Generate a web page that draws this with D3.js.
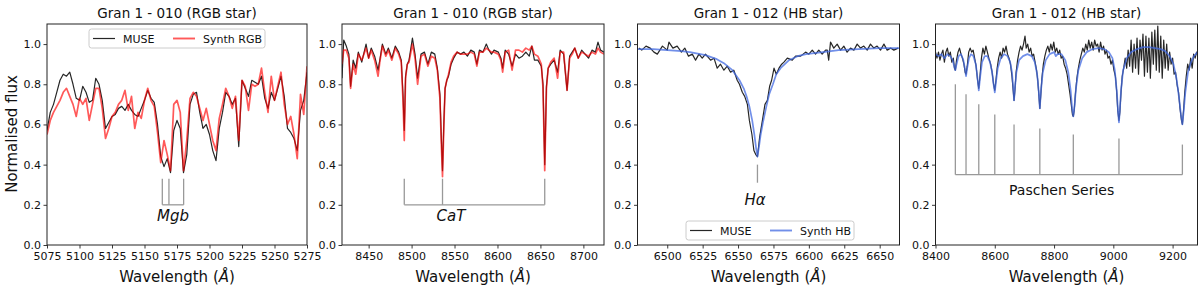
<!DOCTYPE html>
<html><head><meta charset="utf-8">
<script src="https://cdn.jsdelivr.net/npm/d3@7"></script>
<style>
body{margin:0;background:#fff}
svg{display:block}
text{font-family:"DejaVu Sans",sans-serif;fill:#111}
</style>
</head><body>
<svg id="c" width="1200" height="289"></svg>
<script>
// ---------------- DATA ----------------
const titles = ["Gran 1 - 010 (RGB star)","Gran 1 - 010 (RGB star)","Gran 1 - 012 (HB star)","Gran 1 - 012 (HB star)"];
const yTickValues = [0.0,0.2,0.4,0.6,0.8,1.0];
const p1Ticks = [5075,5100,5125,5150,5175,5200,5225,5250,5275];
const p2Ticks = [8450,8500,8550,8600,8650,8700];
const p3Ticks = [6500,6525,6550,6575,6600,6625,6650];
const p4Ticks = [8400,8600,8800,9000,9200];

// Panel 1: Mgb region
const p1Wave = [5075,5077.5,5080,5082.5,5085,5087.5,5090,5092.5,5095,5097.5,
 5100,5102.5,5105,5107.5,5110,5112.5,5115,5117.5,5120,5122.5,
 5125,5127.5,5130,5132.5,5135,5137.5,5140,5142.5,5145,5147.5,
 5150,5152.5,5155,5157.5,5160,5162.5,5165,5167.5,5170,5172.5,
 5175,5177.5,5180,5182.5,5185,5187.5,5190,5192.5,5195,5197.5,
 5200,5202.5,5205,5207.5,5210,5212.5,5215,5217.5,5220,5222.5,
 5225,5227.5,5230,5232.5,5235,5237.5,5240,5242.5,5245,5247.5,
 5250,5252.5,5255,5257.5,5260,5262.5,5265,5267.5,5270,5272.5,
 5275];
const p1Muse = [0.57,0.66,0.70,0.76,0.82,0.85,0.84,0.86,0.80,0.73,
 0.72,0.79,0.76,0.71,0.72,0.83,0.80,0.72,0.58,0.61,
 0.64,0.65,0.68,0.69,0.67,0.70,0.67,0.65,0.64,0.68,
 0.72,0.77,0.73,0.71,0.60,0.44,0.39,0.43,0.36,0.57,
 0.62,0.58,0.36,0.45,0.70,0.75,0.76,0.66,0.58,0.60,
 0.55,0.47,0.42,0.58,0.66,0.76,0.74,0.70,0.73,0.49,
 0.82,0.78,0.74,0.82,0.81,0.80,0.84,0.73,0.68,0.76,
 0.72,0.78,0.84,0.74,0.58,0.56,0.53,0.47,0.67,0.72,
 0.86];
const p1Synth = [0.55,0.62,0.66,0.69,0.72,0.76,0.78,0.74,0.70,0.64,
 0.73,0.70,0.73,0.62,0.70,0.78,0.78,0.68,0.53,0.58,
 0.64,0.66,0.70,0.72,0.77,0.67,0.74,0.58,0.66,0.63,
 0.72,0.78,0.72,0.69,0.56,0.41,0.52,0.45,0.37,0.70,
 0.72,0.66,0.37,0.52,0.73,0.76,0.74,0.68,0.62,0.68,
 0.60,0.52,0.47,0.63,0.70,0.78,0.74,0.68,0.74,0.52,
 0.82,0.79,0.67,0.80,0.79,0.80,0.88,0.76,0.66,0.84,
 0.72,0.79,0.86,0.70,0.60,0.64,0.55,0.43,0.75,0.65,
 0.89];

// Panel 2: CaT region
const p2Wave = [8419,8421,8424,8427,8429,8432,8435,8438,8442,8447,
 8450,8453,8457,8461,8463,8466,8470,8473,8477,8481,
 8485,8488,8490,8491.5,8493,8495,8497,8501,8504,8507,
 8511,8515,8519,8523,8527,8530,8533,8534.5,8536,8537.5,
 8539,8541,8543,8546,8549,8553,8557,8561,8565,8569,
 8573,8576,8579,8583,8587,8590,8593,8596,8601,8604,
 8606,8609,8613,8617,8621,8625,8629,8633,8637,8640,
 8643,8647,8651,8653,8655,8657,8659,8662,8666,8670,
 8673,8677,8681,8684,8687,8690,8694,8698,8702,8706,
 8710,8714,8717,8720,8724];
const p2Muse = [0.83,1.02,0.99,0.95,0.79,0.92,0.88,0.96,0.91,1.00,
 0.93,0.98,0.94,0.87,0.92,1.00,0.95,0.98,0.93,0.99,
 0.96,0.92,0.75,0.57,0.84,0.90,0.92,1.03,0.95,0.83,
 0.95,0.96,0.90,0.96,0.95,0.88,0.75,0.55,0.37,0.60,
 0.78,0.82,0.84,0.90,0.93,0.96,0.95,0.96,0.94,0.97,
 0.96,0.90,0.97,0.96,1.00,0.97,0.95,0.97,0.96,0.93,
 0.88,0.97,0.95,0.89,0.95,0.93,0.94,0.96,0.94,0.99,
 0.92,0.92,0.89,0.80,0.40,0.79,0.88,0.90,0.92,0.86,
 0.97,0.95,0.77,0.94,0.96,0.98,0.93,0.97,0.95,0.93,
 0.97,0.96,1.01,0.97,0.96];
const p2Synth = [0.90,0.97,0.97,0.93,0.78,0.90,0.85,0.95,0.92,0.98,
 0.93,0.97,0.92,0.84,0.91,0.99,0.94,0.97,0.92,0.98,
 0.95,0.91,0.72,0.52,0.83,0.90,0.91,1.00,0.93,0.80,
 0.94,0.95,0.89,0.94,0.93,0.87,0.73,0.52,0.34,0.58,
 0.78,0.82,0.85,0.91,0.94,0.96,0.95,0.95,0.95,0.96,
 0.95,0.89,0.96,0.96,0.98,0.97,0.96,0.96,0.95,0.92,
 0.86,0.96,0.97,0.87,0.97,0.97,0.96,0.98,0.97,0.99,
 0.95,0.94,0.90,0.78,0.37,0.78,0.88,0.91,0.93,0.83,
 0.96,0.96,0.77,0.93,0.95,0.98,0.93,0.96,0.95,0.94,
 0.96,0.95,0.98,0.96,0.95];

// Panel 3: H-alpha
const p3MuseWave = [6480,6482,6485,6488,6490.6,6493,6496.6,6500,6501.2,6504,
 6507,6510,6512.4,6515,6517.7,6520,6522.4,6524.7,6527,6530.6,
 6533,6535.3,6537.6,6540,6542.4,6544.7,6547,6549.4,6551,6553,
 6554.7,6556.6,6558,6559.8,6561.2,6562.5,6563.7,6565.3,6567.2,6569,
 6570.7,6572.3,6573.7,6575.4,6577,6578.9,6580.8,6582.4,6584.8,6588.3,
 6590.6,6594.2,6597.7,6600,6602.4,6604.7,6607,6609.4,6611.8,6613,
 6614,6615.3,6617.6,6620,6622.4,6624.7,6627,6629.4,6631.8,6634.1,
 6636.5,6638.8,6641.2,6643.5,6645.9,6648.2,6650.6,6653,6655.3,6657.7,
 6660,6663];
const p3Muse = [0.98,0.97,0.99,0.98,0.96,0.95,0.99,0.97,1.01,0.98,
 0.99,0.96,0.98,0.94,0.95,0.92,0.95,0.93,0.95,0.92,
 0.93,0.88,0.90,0.87,0.89,0.86,0.87,0.82,0.80,0.76,
 0.74,0.70,0.62,0.55,0.47,0.45,0.44,0.54,0.62,0.70,
 0.72,0.79,0.82,0.88,0.85,0.88,0.90,0.91,0.93,0.92,
 0.94,0.94,0.96,0.95,0.97,0.95,0.97,0.95,0.97,0.97,
 0.92,1.01,0.98,1.00,0.97,0.99,0.96,0.98,0.97,1.00,
 0.98,0.99,0.97,1.00,0.98,0.99,0.97,1.00,0.97,0.98,
 0.97,0.98];
const p3SynthWave = [6479,6490,6500,6510,6516,6527,6535,6540,6546,6551,
 6554,6556,6558,6560,6561.5,6562.8,6563.7,6564.8,6566,6567.6,
 6570,6572,6574.6,6577,6580,6586,6592,6598,6610,6621,
 6635,6650,6664];
const p3Synth = [0.975,0.975,0.97,0.965,0.96,0.945,0.925,0.905,0.87,0.82,
 0.78,0.74,0.69,0.62,0.55,0.48,0.44,0.49,0.55,0.61,
 0.69,0.75,0.80,0.85,0.88,0.92,0.94,0.95,0.96,0.97,
 0.975,0.98,0.98];

// Panel 4: Paschen series
const p4MuseWave = [8400,8405,8410,8415,8420,8425,8430,8435,8440,8445,
 8450,8455,8460,8464,8467,8471,8476,8481,8486,8491,
 8496,8500,8503,8507,8512,8517,8522,8527,8532,8537,
 8542,8546,8550,8555,8560,8565,8570,8575,8580,8586,
 8591,8596,8600,8604,8608,8613,8618,8623,8628,8633,
 8638,8643,8648,8653,8658,8662,8665,8668,8672,8677,
 8682,8687,8692,8697,8702,8706,8711,8716,8721,8726,
 8731,8736,8741,8745,8749,8752,8755,8759,8764,8769,
 8774,8779,8784,8789,8794,8799,8804,8809,8814,8819,
 8824,8829,8834,8839,8844,8849,8854,8858,8862,8865,
 8868,8872,8877,8882,8887,8892,8897,8902,8907,8912,
 8917,8922,8927,8932,8937,8942,8947,8952,8957,8962,
 8967,8972,8977,8982,8987,8992,8997,9002,9007,9011,
 9015,9019,9022,9026,9030,9035,9040,9045,9050,9055,
 9060,9065,9070,9075,9080,9085,9090,9095,9100,9105,
 9110,9115,9120,9125,9130,9135,9140,9145,9150,9155,
 9160,9165,9170,9175,9180,9185,9190,9195,9200,9205,
 9210,9215,9220,9225,9230,9233,9237,9241,9246,9251,
 9256,9261,9266,9271,9276,9281,9284];
const p4Muse = [0.96,0.93,0.96,0.92,0.95,0.97,0.91,0.96,0.98,0.94,
 0.96,0.91,0.93,0.88,0.87,0.92,0.96,0.98,0.95,0.93,
 0.90,0.86,0.85,0.89,0.96,0.98,0.96,0.97,0.93,0.89,
 0.82,0.78,0.84,0.93,0.98,0.95,0.99,0.96,0.93,0.90,
 0.86,0.80,0.77,0.82,0.88,0.93,0.96,0.93,0.98,0.96,
 0.99,0.95,0.93,0.90,0.84,0.77,0.72,0.77,0.86,0.92,
 0.96,0.99,0.97,1.00,1.04,0.98,1.00,0.96,0.98,0.94,
 0.95,0.91,0.87,0.82,0.74,0.68,0.74,0.83,0.90,0.94,
 0.97,0.99,0.96,1.00,0.97,1.01,0.96,0.98,0.95,0.97,
 0.93,0.94,0.90,0.88,0.85,0.80,0.75,0.70,0.65,0.64,
 0.67,0.75,0.83,0.88,0.92,0.95,0.98,0.96,1.00,0.97,
 1.02,0.98,1.01,0.97,1.02,0.99,1.00,0.96,1.01,0.97,
 0.99,0.95,0.97,0.93,0.94,0.90,0.92,0.87,0.84,0.77,
 0.67,0.62,0.66,0.76,0.84,0.88,0.93,0.88,0.97,0.89,
 1.02,0.86,1.00,0.88,1.03,0.85,1.02,0.92,1.05,0.84,
 1.04,0.86,1.03,0.83,1.06,0.90,1.07,0.87,1.09,0.86,
 1.04,0.83,1.02,0.88,1.00,0.87,0.96,0.90,0.93,0.85,
 0.86,0.80,0.76,0.68,0.62,0.60,0.67,0.76,0.84,0.90,
 0.87,0.93,0.88,0.95,0.93,0.96,0.95];
const p4SynthWave = [8400,8410,8420,8430,8440,8450,8458,8463,8467,8471,
 8478,8486,8494,8499,8503,8507,8513,8520,8528,8536,
 8541,8546,8551,8557,8566,8575,8584,8591,8596,8600,
 8604,8610,8620,8632,8643,8652,8658,8662,8665,8668,
 8673,8682,8695,8710,8725,8735,8743,8748,8752,8756,
 8762,8772,8785,8800,8806,8812,8825,8838,8848,8856,
 8861,8865,8869,8874,8882,8895,8910,8930,8950,8970,
 8985,8997,9005,9012,9016,9019,9022,9026,9033,9045,
 9060,9080,9100,9120,9140,9160,9175,9190,9203,9213,
 9222,9228,9233,9237,9243,9252,9262,9272,9284];
const p4Synth = [0.95,0.94,0.95,0.93,0.95,0.94,0.92,0.89,0.87,0.90,
 0.94,0.95,0.92,0.88,0.84,0.88,0.93,0.95,0.94,0.90,
 0.84,0.77,0.84,0.91,0.94,0.94,0.91,0.86,0.80,0.76,
 0.81,0.88,0.93,0.95,0.94,0.91,0.86,0.79,0.72,0.78,
 0.86,0.92,0.94,0.95,0.94,0.91,0.85,0.77,0.68,0.77,
 0.86,0.92,0.95,0.96,0.94,0.95,0.95,0.92,0.86,0.77,
 0.68,0.64,0.69,0.78,0.87,0.93,0.96,0.975,0.98,0.975,
 0.96,0.93,0.87,0.76,0.66,0.61,0.67,0.77,0.87,0.93,
 0.96,0.975,0.985,0.985,0.98,0.975,0.965,0.94,0.90,0.83,
 0.73,0.65,0.60,0.66,0.76,0.86,0.91,0.94,0.96];

// Line identifications
const mgbLines = [5163.7,5168.8,5180.1];
const catLines = [8491.5,8536,8655];
const haLines = [6563.7];
const paschenLines = [8467,8503,8546,8600,8665,8752,8865,9019,9233];
const paschenTops = [0.80,0.75,0.70,0.65,0.60,0.58,0.55,0.53,0.50];

// ---------------- DRAW ----------------
const svg = d3.select("#c");
const TOP = 24, BOTTOM = 245;
const grey = "#999";

function panel(cfg, idx){
  const x = d3.scaleLinear().domain(cfg.domain).range([cfg.x0, cfg.x1]);
  const y = d3.scaleLinear().domain([0, 1.1]).range([BOTTOM, TOP]);
  const g = svg.append("g");
  const cid = "clip" + idx;
  svg.append("clipPath").attr("id", cid).append("rect")
    .attr("x", cfg.x0).attr("y", TOP).attr("width", cfg.x1 - cfg.x0).attr("height", BOTTOM - TOP);
  const plot = g.append("g").attr("clip-path", `url(#${cid})`);
  const line = d3.line().x(d => x(d[0])).y(d => y(d[1]));

  plot.append("path").datum(d3.zip(cfg.museWave, cfg.muse)).attr("d", line)
    .attr("fill","none").attr("stroke","#000").attr("stroke-opacity",0.85).attr("stroke-width",1.2)
    .attr("stroke-linejoin","round");
  plot.append("path").datum(d3.zip(cfg.synthWave, cfg.synth)).attr("d", line)
    .attr("fill","none").attr("stroke",cfg.color).attr("stroke-opacity",cfg.alpha).attr("stroke-width",1.7)
    .attr("stroke-linejoin","round");

  if (cfg.marks) cfg.marks(g, x, y);

  const xa = g.append("g").attr("transform", `translate(0,${BOTTOM})`)
    .call(d3.axisBottom(x).tickValues(cfg.ticks).tickSize(3.5).tickPadding(4).tickFormat(d3.format("d")));
  const ya = g.append("g").attr("transform", `translate(${cfg.x0},0)`)
    .call(d3.axisLeft(y).tickValues(yTickValues).tickSize(3.5).tickPadding(2.5).tickFormat(d3.format(".1f")));
  [xa, ya].forEach(a => {
    a.select(".domain").remove();
    a.selectAll(".tick line").attr("stroke","#222").attr("stroke-width",0.9);
    a.selectAll(".tick text").attr("font-size","11px").attr("fill","#111");
  });
  g.append("rect").attr("x", cfg.x0).attr("y", TOP).attr("width", cfg.x1 - cfg.x0).attr("height", BOTTOM - TOP)
    .attr("fill","none").attr("stroke","#222").attr("stroke-width",1);

  g.append("text").attr("x", (cfg.x0 + cfg.x1)/2).attr("y", 17.5).attr("text-anchor","middle")
    .attr("font-size","13.5px").text(titles[idx]);
  const xl = g.append("text").attr("x", (cfg.x0 + cfg.x1)/2).attr("y", 281.5).attr("text-anchor","middle")
    .attr("font-size","15px");
  xl.append("tspan").text("Wavelength (");
  xl.append("tspan").attr("font-style","italic").text("Å");
  xl.append("tspan").text(")");

  if (cfg.legend){
    const L = cfg.legend;
    const lg = g.append("g");
    lg.append("rect").attr("x", L.x).attr("y", L.y).attr("width", L.w).attr("height", 19).attr("rx", 2.5)
      .attr("fill","#fff").attr("fill-opacity",0.85).attr("stroke","#ccc").attr("stroke-width",1);
    const cy = L.y + 9.5;
    lg.append("line").attr("x1", L.x+4).attr("x2", L.x+26).attr("y1", cy).attr("y2", cy)
      .attr("stroke","#000").attr("stroke-opacity",0.85).attr("stroke-width",1.2);
    lg.append("text").attr("x", L.x+34).attr("y", cy+4).attr("font-size","11px").text("MUSE");
    lg.append("line").attr("x1", L.x+L.off).attr("x2", L.x+L.off+22).attr("y1", cy).attr("y2", cy)
      .attr("stroke",cfg.color).attr("stroke-opacity",cfg.alpha).attr("stroke-width",1.9);
    lg.append("text").attr("x", L.x+L.off+30).attr("y", cy+4).attr("font-size","11px").text(L.label);
  }
  return {x, y};
}

function bracket(g, x, y, waves, tops, base){
  waves.forEach((w,i) => {
    g.append("line").attr("x1", x(w)).attr("x2", x(w)).attr("y1", y(tops[i])).attr("y2", y(base))
      .attr("stroke", grey).attr("stroke-width",1.3);
  });
  g.append("line").attr("x1", x(d3.min(waves))).attr("x2", x(d3.max(waves))).attr("y1", y(base)).attr("y2", y(base))
    .attr("stroke", grey).attr("stroke-width",1.3);
}

const panels = [
  {domain:[5075,5275], x0:47, x1:307, ticks:p1Ticks, museWave:p1Wave, muse:p1Muse, synthWave:p1Wave, synth:p1Synth,
   color:"#ff0000", alpha:0.65, legend:{x:89, y:29, w:176, off:84, label:"Synth RGB"},
   marks:(g,x,y)=>{
     bracket(g,x,y,mgbLines,mgbLines.map(()=>0.33),0.2);
     g.append("text").attr("x",x(5172)).attr("y",y(0.144)+5).attr("text-anchor","middle")
       .attr("font-size","15px").attr("font-style","italic").text("Mgb");
   }},
  {domain:[8419,8724], x0:342, x1:604, ticks:p2Ticks, museWave:p2Wave, muse:p2Muse, synthWave:p2Wave, synth:p2Synth,
   color:"#ff0000", alpha:0.65,
   marks:(g,x,y)=>{
     bracket(g,x,y,catLines,catLines.map(()=>0.33),0.2);
     g.append("text").attr("x",x(8545.8)).attr("y",y(0.144)+5).attr("text-anchor","middle")
       .attr("font-size","15px").attr("font-style","italic").text("CaT");
   }},
  {domain:[6479,6664], x0:637.5, x1:899.5, ticks:p3Ticks, museWave:p3MuseWave, muse:p3Muse, synthWave:p3SynthWave, synth:p3Synth,
   color:"#4169e1", alpha:0.75, legend:{x:686, y:221, w:168, off:84, label:"Synth HB"},
   marks:(g,x,y)=>{
     g.append("line").attr("x1",x(haLines[0])).attr("x2",x(haLines[0])).attr("y1",y(0.40)).attr("y2",y(0.31))
       .attr("stroke",grey).attr("stroke-width",1.3);
     g.append("text").attr("x",x(6562)).attr("y",y(0.224)+5).attr("text-anchor","middle")
       .attr("font-size","15px").attr("font-style","italic").text("Hα");
   }},
  {domain:[8400,9284], x0:935.5, x1:1197.5, ticks:p4Ticks, museWave:p4MuseWave, muse:p4Muse, synthWave:p4SynthWave, synth:p4Synth,
   color:"#4169e1", alpha:0.75,
   marks:(g,x,y)=>{
     bracket(g,x,y,paschenLines,paschenTops,0.35);
     g.append("text").attr("x",x(8825.7)).attr("y",y(0.274)+5).attr("text-anchor","middle")
       .attr("font-size","14px").text("Paschen Series");
   }}
];

panels.forEach((p,i) => panel(p,i));

svg.append("text").attr("transform","translate(17,134) rotate(-90)").attr("text-anchor","middle")
  .attr("font-size","15px").text("Normalised flux");
</script>
</body></html>
